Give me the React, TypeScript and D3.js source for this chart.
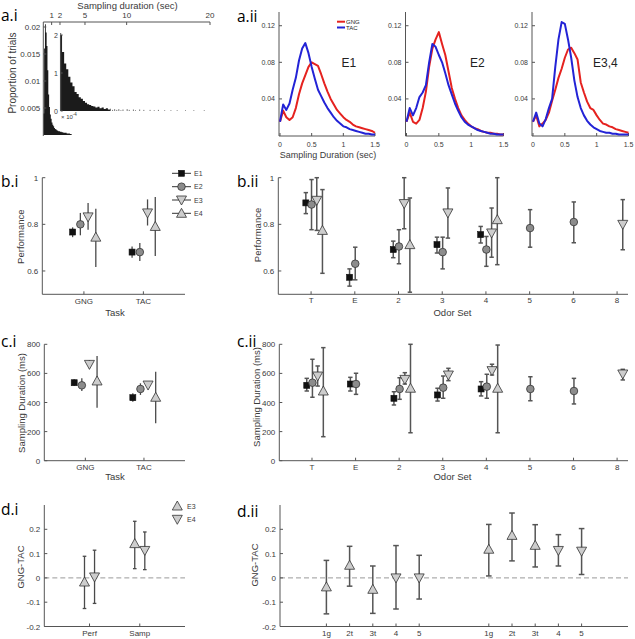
import React from 'react';
import * as d3 from 'd3';

const FONT = 'Liberation Sans, Arial, Helvetica, sans-serif';
const PFONT = 'Open Sans, Liberation Sans, sans-serif';
const AX = '#555';
const TXT = '#3a3a3a';

// ---------- a.i : histogram of sampling duration ----------
const mainHistT = [0.0, 0.1, 0.2, 0.3, 0.4, 0.5, 0.6, 0.7, 0.8, 0.9, 1.0, 1.1, 1.2, 1.3, 1.4, 1.5, 1.6, 1.7, 1.8, 1.9, 2.0, 2.2, 2.4, 2.6, 2.8, 3.0, 3.2];
const mainHistP = [0.004, 0.016, 0.0205, 0.019, 0.0165, 0.012, 0.0075, 0.0052, 0.0038, 0.003, 0.0023, 0.0019, 0.0016, 0.0013, 0.0011, 0.001, 0.0009, 0.0008, 0.0007, 0.0007, 0.0006, 0.0005, 0.0004, 0.0004, 0.0003, 0.0003, 0.0002];
const insetHistT = [2.0, 2.25, 2.5, 2.75, 3.0, 3.25, 3.5, 3.75, 4.0, 4.25, 4.5, 4.75, 5.0, 5.25, 5.5, 5.75, 6.0, 6.25, 6.5, 6.75, 7.0, 7.25, 7.5, 7.75, 8.0, 8.25, 8.5, 8.75, 9.0, 9.25, 9.5, 9.75, 10.0, 10.25, 10.5, 10.75, 11.0, 11.25, 11.5, 11.75, 12.0, 12.25, 12.5, 12.75, 13.0, 13.25, 13.5, 13.75, 14.0, 14.25, 14.5, 14.75, 15.0, 15.25, 15.5, 15.75, 16.0, 16.25, 16.5, 16.75, 17.0, 17.25, 17.5, 17.75, 18.0, 18.25, 18.5, 18.75, 19.0, 19.25];
const insetHistP = [2.0, 1.55, 1.25, 1.1, 0.9, 0.75, 0.65, 0.5, 0.45, 0.36, 0.32, 0.26, 0.22, 0.18, 0.16, 0.13, 0.12, 0.09, 0.11, 0.07, 0.09, 0.05, 0.07, 0.04, 0.06, 0.03, 0.05, 0.03, 0.05, 0.02, 0.04, 0.0, 0.05, 0.03, 0.0, 0.04, 0.02, 0.0, 0.04, 0.0, 0.03, 0.0, 0.0, 0.03, 0.0, 0.02, 0.0, 0.03, 0.0, 0.0, 0.02, 0.0, 0.0, 0.02, 0.0, 0.0, 0.02, 0.0, 0.0, 0.0, 0.02, 0.0, 0.0, 0.0, 0.02, 0.0, 0.0, 0.0, 0.0, 0.02];
const topTicks = [1, 2, 5, 10, 20];
const mainYTicks = [0.005, 0.01, 0.015, 0.02];
const insetYTicks = [0, 1, 2];

// ---------- a.ii : sampling duration distributions ----------
const durT = d3.range(31).map(i => +(i * 0.05).toFixed(2));
const e1GNG = [0.015, 0.027, 0.02, 0.017, 0.02, 0.03, 0.045, 0.057, 0.066, 0.075, 0.08, 0.078, 0.076, 0.067, 0.057, 0.048, 0.04, 0.034, 0.028, 0.024, 0.02, 0.017, 0.015, 0.012, 0.01, 0.009, 0.008, 0.007, 0.006, 0.005, 0.003];
const e1TAC = [0.015, 0.034, 0.028, 0.035, 0.05, 0.063, 0.082, 0.095, 0.101, 0.09, 0.075, 0.062, 0.05, 0.043, 0.036, 0.03, 0.025, 0.02, 0.016, 0.013, 0.01, 0.009, 0.007, 0.006, 0.005, 0.004, 0.003, 0.002, 0.002, 0.001, 0.001];
const e2GNG = [0.015, 0.025, 0.015, 0.013, 0.017, 0.03, 0.048, 0.075, 0.095, 0.105, 0.113, 0.1, 0.088, 0.07, 0.052, 0.04, 0.03, 0.022, 0.017, 0.013, 0.01, 0.008, 0.007, 0.005, 0.004, 0.003, 0.003, 0.002, 0.002, 0.001, 0.001];
const e2TAC = [0.015, 0.03, 0.022, 0.03, 0.042, 0.047, 0.055, 0.08, 0.1, 0.097, 0.088, 0.08, 0.068, 0.055, 0.045, 0.035, 0.027, 0.02, 0.015, 0.012, 0.01, 0.008, 0.006, 0.005, 0.004, 0.003, 0.002, 0.002, 0.001, 0.001, 0.001];
const e34GNG = [0.015, 0.022, 0.01, 0.013, 0.017, 0.025, 0.038, 0.05, 0.063, 0.073, 0.085, 0.094, 0.096, 0.09, 0.083, 0.058, 0.047, 0.037, 0.03, 0.028, 0.022, 0.017, 0.013, 0.012, 0.01, 0.009, 0.007, 0.006, 0.005, 0.004, 0.003];
const e34TAC = [0.015, 0.025, 0.013, 0.01, 0.018, 0.03, 0.04, 0.075, 0.105, 0.124, 0.122, 0.105, 0.085, 0.06, 0.042, 0.03, 0.022, 0.016, 0.012, 0.009, 0.007, 0.005, 0.004, 0.003, 0.003, 0.002, 0.002, 0.001, 0.001, 0.001, 0.001];
const durXTicks = [0, 0.5, 1, 1.5];
const durYTicks = [0.04, 0.08, 0.12];

// ---------- b / c : per task and per odor set ----------
const taskCats = ['GNG', 'TAC'];
const odorCats = ['T', 'E', '2', '3', '4', '5', '6', '8'];
const expNames = ['E1', 'E2', 'E3', 'E4'];

// [category, mean, low, high]
const perfTaskE1 = [['GNG', 0.767, 0.745, 0.787], ['TAC', 0.681, 0.657, 0.705]];
const perfTaskE2 = [['GNG', 0.8, 0.753, 0.849], ['TAC', 0.681, 0.643, 0.72]];
const perfTaskE3 = [['GNG', 0.832, 0.777, 0.892], ['TAC', 0.849, 0.795, 0.907]];
const perfTaskE4 = [['GNG', 0.745, 0.617, 0.867], ['TAC', 0.791, 0.664, 0.917]];

const perfOdorE1 = [['T', 0.892, 0.846, 0.936], ['E', 0.573, 0.535, 0.609], ['2', 0.692, 0.657, 0.728], ['3', 0.713, 0.677, 0.745], ['4', 0.756, 0.72, 0.791]];
const perfOdorE2 = [['T', 0.885, 0.777, 0.992], ['E', 0.631, 0.562, 0.702], ['2', 0.705, 0.631, 0.777], ['3', 0.681, 0.609, 0.745], ['4', 0.692, 0.62, 0.748], ['5', 0.784, 0.702, 0.863], ['6', 0.81, 0.721, 0.896]];
const perfOdorE3 = [['T', 0.903, 0.774, 1.0], ['2', 0.889, 0.781, 1.0], ['3', 0.849, 0.741, 0.956], ['4', 0.763, 0.659, 0.87], ['8', 0.8, 0.691, 0.906]];
const perfOdorE4 = [['T', 0.774, 0.59, 0.949], ['2', 0.713, 0.509, 0.913], ['4', 0.82, 0.627, 1.0]];

const sampTaskE1 = [['GNG', 536, 513, 559], ['TAC', 433, 406, 463]];
const sampTaskE2 = [['GNG', 518, 479, 566], ['TAC', 493, 452, 532]];
const sampTaskE3 = [['GNG', 662, 635, 692], ['TAC', 520, 498, 543]];
const sampTaskE4 = [['GNG', 548, 364, 720], ['TAC', 436, 257, 612]];

const sampOdorE1 = [['T', 518, 479, 566], ['E', 527, 479, 573], ['2', 429, 383, 474], ['3', 452, 410, 498], ['4', 493, 445, 543]];
const sampOdorE2 = [['T', 536, 436, 697], ['E', 527, 456, 601], ['2', 493, 422, 570], ['3', 502, 429, 582], ['4', 509, 429, 594], ['5', 493, 412, 577], ['6', 479, 390, 566]];
const sampOdorE3 = [['T', 582, 513, 651], ['2', 559, 527, 605], ['3', 589, 550, 635], ['4', 619, 589, 663], ['8', 596, 555, 628]];
const sampOdorE4 = [['T', 479, 165, 777], ['2', 498, 192, 800], ['4', 498, 192, 795]];

const perfYTicks = [0.6, 0.8, 1];
const sampYTicks = [0, 200, 400, 600, 800];

// ---------- d : GNG - TAC ----------
const diffCats = ['Perf', 'Samp'];
const diffE3 = [['Perf', -0.017, -0.126, 0.089], ['Samp', 0.141, 0.038, 0.233]];
const diffE4 = [['Perf', 0.004, -0.105, 0.114], ['Samp', 0.113, 0.034, 0.189]];
const diffOdorLabels = ['1g', '2t', '3t', '4', '5', '1g', '2t', '3t', '4', '5'];
const diffOdorPos = [1, 2, 3, 4, 5, 8, 9, 10, 11, 12];
const diffOdorExp = ['E3', 'E3', 'E3', 'E4', 'E4', 'E3', 'E3', 'E3', 'E4', 'E4'];
const diffOdorMean = [-0.037, 0.052, -0.047, 0.0, 0.0, 0.118, 0.175, 0.134, 0.113, 0.11];
const diffOdorLo = [-0.148, -0.034, -0.146, -0.128, -0.087, 0.008, 0.07, 0.045, 0.049, 0.014];
const diffOdorHi = [0.072, 0.13, 0.049, 0.133, 0.093, 0.22, 0.267, 0.219, 0.178, 0.203];
const diffYTicks = [-0.2, -0.1, 0, 0.1, 0.2];

// ---------- helpers ----------
function Marker({ kind, x, y }: { kind: string; x: number; y: number }) {
  if (kind === 'E1') return <rect x={x - 3} y={y - 3} width={6} height={6} fill="#111" stroke="#111" strokeWidth={0.6} />;
  if (kind === 'E2') return <circle cx={x} cy={y} r={3.8} fill="#8c8c8c" stroke="#333" strokeWidth={0.8} />;
  if (kind === 'E3')
    return <path d={`M${x - 5},${y - 4}L${x + 5},${y - 4}L${x},${y + 5}Z`} fill="#cdcdcd" stroke="#333" strokeWidth={0.8} />;
  return <path d={`M${x - 5},${y + 4}L${x + 5},${y + 4}L${x},${y - 5}Z`} fill="#cdcdcd" stroke="#333" strokeWidth={0.8} />;
}

function YAxis({ x, ys, ticks, fmt, fs = 8 }: any) {
  const [b, t] = ys.range();
  return (
    <g>
      <line x1={x} x2={x} y1={b} y2={t} stroke={AX} strokeWidth={1} />
      {ticks.map((v: number) => (
        <g key={v}>
          <line x1={x} x2={x + 3} y1={ys(v)} y2={ys(v)} stroke={AX} />
          <text x={x - 4} y={ys(v) + 3} fontSize={fs} textAnchor="end" fill={TXT}>{fmt(v)}</text>
        </g>
      ))}
    </g>
  );
}

function XAxis({ y, xs, x0, x1, ticks, labels, fs = 8, dy = 9 }: any) {
  return (
    <g>
      <line x1={x0} x2={x1} y1={y} y2={y} stroke={AX} strokeWidth={1} />
      {ticks.map((v: number, i: number) => (
        <g key={i}>
          <line x1={xs(v)} x2={xs(v)} y1={y} y2={y - 3} stroke={AX} />
          <text x={xs(v)} y={y + dy} fontSize={fs} textAnchor="middle" fill={TXT}>{labels[i]}</text>
        </g>
      ))}
    </g>
  );
}

function YLabel({ x, y, text, fs = 9.5 }: any) {
  return <text transform={`translate(${x},${y}) rotate(-90)`} fontSize={fs} textAnchor="middle" fill={TXT}>{text}</text>;
}

function ErrSeries({ data, kind, xs, ys, catPos, offset, cap, color = '#4a4a4a', sw = 1.3 }: any) {
  return (
    <g>
      {data.map((d: any, i: number) => {
        const x = xs(catPos(d[0]) + offset);
        return (
          <g key={i}>
            <line x1={x} x2={x} y1={ys(d[2])} y2={ys(d[3])} stroke={color} strokeWidth={sw} />
            {cap > 0 && (
              <>
                <line x1={x - cap} x2={x + cap} y1={ys(d[2])} y2={ys(d[2])} stroke={color} strokeWidth={sw} />
                <line x1={x - cap} x2={x + cap} y1={ys(d[3])} y2={ys(d[3])} stroke={color} strokeWidth={sw} />
              </>
            )}
            <Marker kind={kind} x={x} y={ys(d[1])} />
          </g>
        );
      })}
    </g>
  );
}

// ---------- panels ----------
function PanelAi() {
  const xs = d3.scaleLinear().domain([0, 20]).range([43.3, 210]);
  const ys = d3.scaleLinear().domain([0, 0.02]).range([135, 27]);
  const yi = d3.scaleLinear().domain([0, 2]).range([111, 35]);
  const mainPts: [number, number][] = mainHistT.map((t, i) => [t, mainHistP[i]]);
  mainPts.push([3.4, 0]);
  const mainArea = d3.area<[number, number]>().x(d => xs(d[0])).y0(ys(0)).y1(d => ys(d[1])).curve(d3.curveStepAfter);
  const densePts: [number, number][] = [];
  insetHistT.forEach((t, i) => { if (t < 8) densePts.push([t, insetHistP[i]]); });
  densePts.push([8, 0]);
  const insetArea = d3.area<[number, number]>().x(d => xs(d[0])).y0(yi(0)).y1(d => yi(d[1])).curve(d3.curveStepAfter);
  return (
    <g>
      <path d={mainArea(mainPts) || ''} fill="#1b1b1b" />
      <line x1={xs(0)} x2={xs(0)} y1={22} y2={136} stroke={AX} />
      {mainYTicks.map(v => (
        <g key={v}>
          <line x1={xs(0)} x2={xs(0) + 3} y1={ys(v)} y2={ys(v)} stroke={AX} />
          <text x={xs(0) - 3} y={ys(v) + 3} fontSize={8} textAnchor="end" fill={TXT}>{v}</text>
        </g>
      ))}
      <line x1={xs(0)} x2={xs(20)} y1={22} y2={22} stroke={AX} />
      {topTicks.map(v => (
        <g key={v}>
          <line x1={xs(v)} x2={xs(v)} y1={22} y2={25} stroke={AX} />
          <text x={xs(v)} y={18} fontSize={8} textAnchor="middle" fill={TXT}>{v}</text>
        </g>
      ))}
      <text x={127.5} y={9} fontSize={9.5} textAnchor="middle" fill={TXT}>Sampling duration (sec)</text>
      <YLabel x={16} y={73} text="Proportion of trials" fs={10} />
      {/* inset */}
      <path d={insetArea(densePts) || ''} fill="#1b1b1b" />
      {insetHistT.map((t, i) =>
        t >= 8 && insetHistP[i] > 0 ? (
          <rect key={i} x={xs(t)} y={yi(insetHistP[i])} width={1} height={yi(0) - yi(insetHistP[i])} fill="#777" />
        ) : null
      )}
      <line x1={60.7} x2={60.7} y1={111} y2={33} stroke={AX} />
      {insetYTicks.map(v => (
        <g key={v}>
          <line x1={60.7} x2={62.7} y1={yi(v)} y2={yi(v)} stroke={AX} />
          <text x={58} y={yi(v) + 2.5} fontSize={7} textAnchor="end" fill={TXT}>{v}</text>
        </g>
      ))}
      <text x={61} y={119} fontSize={6} fill={TXT}>× 10<tspan dy={-3} fontSize={4.5}>-4</tspan></text>
    </g>
  );
}

function DurSub({ x0, x1, gng, tac, label, labelX, showXLabel }: any) {
  const xs = d3.scaleLinear().domain([0, 1.5]).range([x0, x1]);
  const ys = d3.scaleLinear().domain([0, 0.135]).range([135.5, 12]);
  const line = d3.line<number>().x((_, i) => xs(durT[i])).y(d => ys(d));
  return (
    <g>
      <line x1={x0 - 1} x2={x0 - 1} y1={136} y2={12} stroke={AX} />
      {durYTicks.map(v => (
        <g key={v}>
          <line x1={x0 - 1} x2={x0 + 2} y1={ys(v)} y2={ys(v)} stroke={AX} />
          <text x={x0 - 5} y={ys(v) + 2.5} fontSize={7} textAnchor="end" fill={TXT}>{v}</text>
        </g>
      ))}
      <line x1={x0 - 1} x2={x1} y1={136} y2={136} stroke={AX} />
      {durXTicks.map(v => (
        <g key={v}>
          <line x1={xs(v)} x2={xs(v)} y1={136} y2={133} stroke={AX} />
          <text x={xs(v)} y={147} fontSize={7} textAnchor="middle" fill={TXT}>{v}</text>
        </g>
      ))}
      <path d={line(gng) || ''} fill="none" stroke="#e5221f" strokeWidth={2} strokeLinejoin="round" />
      <path d={line(tac) || ''} fill="none" stroke="#2323d6" strokeWidth={2} strokeLinejoin="round" />
      <text x={labelX} y={66.5} fontSize={12} fill="#222">{label}</text>
      {showXLabel && <text x={328} y={157.5} fontSize={9} textAnchor="middle" fill={TXT}>Sampling Duration (sec)</text>}
    </g>
  );
}

function PanelAii() {
  return (
    <g>
      <DurSub x0={280} x1={375} gng={e1GNG} tac={e1TAC} label="E1" labelX={341.5} showXLabel />
      <DurSub x0={406.5} x1={503.5} gng={e2GNG} tac={e2TAC} label="E2" labelX={470} />
      <DurSub x0={533} x1={628.5} gng={e34GNG} tac={e34TAC} label="E3,4" labelX={593} />
      <line x1={337} x2={345} y1={21.7} y2={21.7} stroke="#e5221f" strokeWidth={2} />
      <text x={346} y={23.8} fontSize={6} fill="#222">GNG</text>
      <line x1={337} x2={345} y1={27.5} y2={27.5} stroke="#2323d6" strokeWidth={2} />
      <text x={346} y={29.6} fontSize={6} fill="#222">TAC</text>
    </g>
  );
}

const taskPos = (c: string) => taskCats.indexOf(c) + 1;
const odorPos = (c: string) => odorCats.indexOf(c) + 1;
const taskOffsets = [-0.19, -0.06, 0.07, 0.2];
const odorOffsets = [-0.12, 0.01, 0.13, 0.26];

function PanelBi() {
  const xs = d3.scaleLinear().domain([0.3, 2.7]).range([42.3, 185]);
  const ys = d3.scaleLinear().domain([0.5, 1]).range([294.3, 177.7]);
  const series = [perfTaskE1, perfTaskE2, perfTaskE3, perfTaskE4];
  const ly = [173.3, 186.7, 200, 213.3];
  return (
    <g>
      <YAxis x={42.3} ys={ys} ticks={perfYTicks} fmt={(v: number) => String(v)} />
      <XAxis y={294.3} xs={xs} x0={42.3} x1={185} ticks={[1, 2]} labels={taskCats} dy={9.3} />
      <text x={115} y={315.5} fontSize={9.5} textAnchor="middle" fill={TXT}>Task</text>
      <YLabel x={24} y={236.7} text="Performance" />
      {series.map((s, i) => (
        <ErrSeries key={i} data={s} kind={expNames[i]} xs={xs} ys={ys} catPos={taskPos} offset={taskOffsets[i]} cap={0} />
      ))}
      {expNames.map((e, i) => (
        <g key={e}>
          <line x1={172} x2={191} y1={ly[i]} y2={ly[i]} stroke="#333" strokeWidth={1} />
          <Marker kind={e} x={181.5} y={ly[i]} />
          <text x={194} y={ly[i] + 2.6} fontSize={7} fill={TXT}>{e}</text>
        </g>
      ))}
    </g>
  );
}

function PanelBii() {
  const xs = d3.scaleLinear().domain([0.25, 8.25]).range([278.3, 628]);
  const ys = d3.scaleLinear().domain([0.5, 1]).range([294.3, 177.7]);
  const series = [perfOdorE1, perfOdorE2, perfOdorE3, perfOdorE4];
  return (
    <g>
      <YAxis x={278.3} ys={ys} ticks={perfYTicks} fmt={(v: number) => String(v)} />
      <XAxis y={294.3} xs={xs} x0={278.3} x1={628} ticks={d3.range(1, 9)} labels={odorCats} dy={8.5} />
      <text x={452.5} y={315.5} fontSize={9.5} textAnchor="middle" fill={TXT}>Odor Set</text>
      <YLabel x={261} y={235} text="Performance" />
      {series.map((s, i) => (
        <ErrSeries key={i} data={s} kind={expNames[i]} xs={xs} ys={ys} catPos={odorPos} offset={odorOffsets[i]} cap={2.2} color="#555" sw={1.5} />
      ))}
    </g>
  );
}

function PanelCi() {
  const xs = d3.scaleLinear().domain([0.3, 2.7]).range([44.3, 185]);
  const ys = d3.scaleLinear().domain([0, 800]).range([460.7, 344.3]);
  const series = [sampTaskE1, sampTaskE2, sampTaskE3, sampTaskE4];
  return (
    <g>
      <YAxis x={44.3} ys={ys} ticks={sampYTicks} fmt={(v: number) => String(v)} />
      <XAxis y={460.7} xs={xs} x0={44.3} x1={185} ticks={[1, 2]} labels={taskCats} dy={9} />
      <text x={115} y={480} fontSize={9.5} textAnchor="middle" fill={TXT}>Task</text>
      <YLabel x={24.5} y={403} text="Sampling Duration (ms)" />
      {series.map((s, i) => (
        <ErrSeries key={i} data={s} kind={expNames[i]} xs={xs} ys={ys} catPos={taskPos} offset={taskOffsets[i]} cap={0} />
      ))}
    </g>
  );
}

function PanelCii() {
  const xs = d3.scaleLinear().domain([0.25, 8.25]).range([279.3, 628]);
  const ys = d3.scaleLinear().domain([0, 800]).range([460.7, 344.3]);
  const series = [sampOdorE1, sampOdorE2, sampOdorE3, sampOdorE4];
  return (
    <g>
      <YAxis x={279.3} ys={ys} ticks={sampYTicks} fmt={(v: number) => String(v)} />
      <XAxis y={460.7} xs={xs} x0={279.3} x1={628} ticks={d3.range(1, 9)} labels={odorCats} dy={9} />
      <text x={452.5} y={480} fontSize={9.5} textAnchor="middle" fill={TXT}>Odor Set</text>
      <YLabel x={259.5} y={397} text="Sampling Duration (ms)" />
      {series.map((s, i) => (
        <ErrSeries key={i} data={s} kind={expNames[i]} xs={xs} ys={ys} catPos={odorPos} offset={odorOffsets[i]} cap={2.2} color="#555" sw={1.5} />
      ))}
    </g>
  );
}

const diffPos = (c: string) => diffCats.indexOf(c) + 1;
const fmtDiff = (v: number) => (v === 0 ? '0' : String(v));

function PanelDi() {
  const xs = d3.scaleLinear().domain([0.1, 2.9]).range([44.3, 185]);
  const ys = d3.scaleLinear().domain([-0.2, 0.3]).range([626.5, 505]);
  return (
    <g>
      <line x1={44.3} x2={185} y1={ys(0)} y2={ys(0)} stroke="#999" strokeWidth={1} strokeDasharray="5,3" />
      <YAxis x={44.3} ys={ys} ticks={diffYTicks} fmt={fmtDiff} />
      <XAxis y={626.5} xs={xs} x0={44.3} x1={185} ticks={[1, 2]} labels={diffCats} dy={9.5} />
      <YLabel x={23.5} y={567} text="GNG-TAC" />
      <ErrSeries data={diffE3} kind="E4" xs={xs} ys={ys} catPos={diffPos} offset={-0.1} cap={1.8} />
      <ErrSeries data={diffE4} kind="E3" xs={xs} ys={ys} catPos={diffPos} offset={0.1} cap={1.8} />
      <Marker kind="E4" x={177.3} y={506} />
      <text x={187} y={508.6} fontSize={7} fill={TXT}>E3</text>
      <Marker kind="E3" x={177.3} y={519.3} />
      <text x={187} y={521.9} fontSize={7} fill={TXT}>E4</text>
    </g>
  );
}

function PanelDii() {
  const xs = d3.scaleLinear().domain([-1, 14]).range([280, 628]);
  const ys = d3.scaleLinear().domain([-0.2, 0.3]).range([626.5, 505]);
  const data = diffOdorPos.map((p, i) => [p, diffOdorMean[i], diffOdorLo[i], diffOdorHi[i]]);
  return (
    <g>
      <line x1={280} x2={628} y1={ys(0)} y2={ys(0)} stroke="#999" strokeWidth={1} strokeDasharray="5,3" />
      <YAxis x={280} ys={ys} ticks={diffYTicks} fmt={fmtDiff} />
      <XAxis y={626.5} xs={xs} x0={280} x1={628} ticks={diffOdorPos} labels={diffOdorLabels} dy={9.5} />
      <YLabel x={257.5} y={565} text="GNG-TAC" />
      {data.map((d, i) => (
        <ErrSeries key={i} data={[d]} kind={diffOdorExp[i] === 'E3' ? 'E4' : 'E3'} xs={xs} ys={ys} catPos={(p: number) => p} offset={0} cap={2.8} color="#555" sw={1.5} />
      ))}
    </g>
  );
}

const panelLabels = ['a.i', 'a.ii', 'b.i', 'b.ii', 'c.i', 'c.ii', 'd.i', 'd.ii'];
const panelLabelX = [1, 237, 1, 237, 1, 237, 1, 237];
const panelLabelY = [21, 22, 187, 187, 347, 347, 515, 517];

export default function App() {
  return (
    <svg width={635} height={639} style={{ position: 'absolute', left: 0, top: 0, display: 'block' }} fontFamily={FONT}>
      <rect width={635} height={639} fill="#fff" />
      {panelLabels.map((l, i) => (
        <text key={l} x={panelLabelX[i]} y={panelLabelY[i]} fontSize={15.5} fontFamily={PFONT} fill="#000">{l}</text>
      ))}
      <PanelAi />
      <PanelAii />
      <PanelBi />
      <PanelBii />
      <PanelCi />
      <PanelCii />
      <PanelDi />
      <PanelDii />
    </svg>
  );
}
